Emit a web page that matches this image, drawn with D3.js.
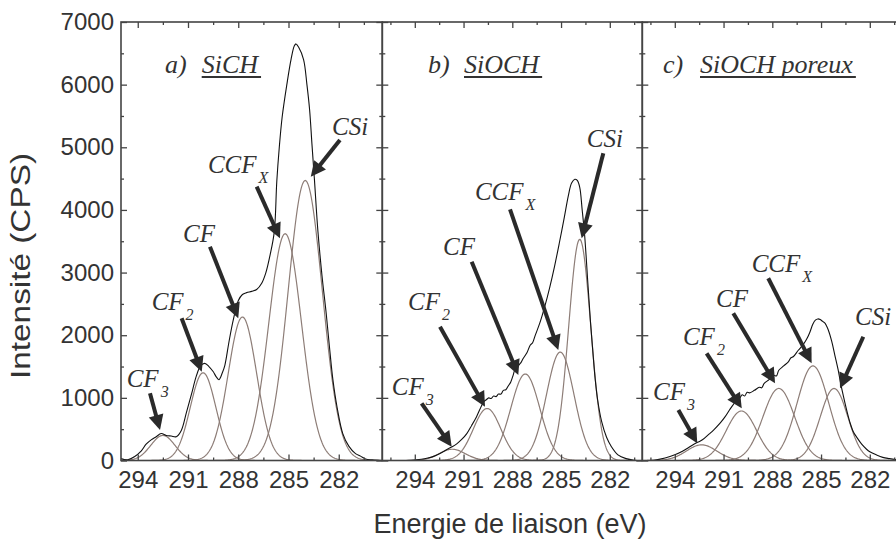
<!DOCTYPE html>
<html><head><meta charset="utf-8">
<script src="https://cdn.jsdelivr.net/npm/d3@7"></script>
<style>body{margin:0;background:#fff} svg{display:block}</style>
</head><body><svg id="c" width="896" height="542"></svg>
<script>
// ---------- data ----------
const xMajorTicks = [294, 291, 288, 285, 282];
const xMinorTicks = [295.5, 292.5, 289.5, 286.5, 283.5, 280.5];
const yMajorTicks = [0, 1000, 2000, 3000, 4000, 5000, 6000, 7000];
const yMinorTicks = [500, 1500, 2500, 3500, 4500, 5500, 6500];

const panelLetters = ["a)", "b)", "c)"];
const panelTitles = ["SiCH", "SiOCH", "SiOCH poreux"];
const componentNames = ["CF", "CF", "CF", "CCF", "CSi"];
const componentSubs = ["3", "2", "", "X", ""];

// fitted components: centre (eV), height (CPS), FWHM (eV)
const sichCenter = [292.5, 290.1, 287.75, 285.2, 284.0];
const sichHeight = [400, 1400, 2290, 3620, 4470];
const sichFwhm = [1.7, 1.8, 2.0, 2.3, 2.4];

const siochCenter = [291.7, 289.55, 287.2, 285.05, 283.85];
const siochHeight = [180, 830, 1380, 1730, 3530];
const siochFwhm = [1.9, 2.0, 2.1, 2.0, 1.6];

const porCenter = [292.35, 289.9, 287.6, 285.5, 284.2];
const porHeight = [250, 790, 1150, 1510, 1150];
const porFwhm = [2.2, 2.2, 2.3, 2.3, 2.0];

// measured envelopes
const sichEnvE = [295.0,294.6,294.2,293.8,293.5,293.2,292.9,292.6,292.3,292.0,291.7,291.4,291.1,290.8,290.5,290.25,290.0,289.75,289.5,289.3,289.15,288.95,288.8,288.55,288.3,288.0,287.75,287.5,287.2,286.9,286.6,286.35,286.1,285.85,285.7,285.55,285.38,285.1,284.85,284.65,284.55,284.4,284.1,283.9,283.74,283.6,283.45,283.25,283.0,282.75,282.55,282.35,282.1,281.76,281.4,281.0,280.7,280.4,280.0,279.4];
const sichEnvI = [30,10,60,150,260,330,380,430,400,390,380,480,760,1050,1350,1510,1550,1500,1420,1330,1290,1400,1520,1900,2240,2550,2650,2680,2700,2730,2830,3000,3280,3650,4450,5000,5480,6000,6400,6620,6650,6600,6400,6000,5600,5050,4480,3680,2950,2350,1800,1290,850,430,230,110,70,25,10,0];

const siochEnvE = [296.0,295.0,294.2,293.6,293.2,292.8,292.4,292.0,291.7,291.4,291.1,290.8,290.5,290.2,289.9,289.75,289.6,289.45,289.3,289.15,289.0,288.85,288.7,288.55,288.4,288.25,288.1,287.95,287.85,287.7,287.6,287.45,287.35,287.1,286.9,286.75,286.6,286.3,286.0,285.7,285.4,285.1,284.8,284.55,284.35,284.15,284.0,283.85,283.7,283.55,283.35,283.2,283.05,282.9,282.75,282.5,282.2,281.9,281.5,281.0,280.5,280.0];
const siochEnvI = [0,0,5,20,40,70,120,180,220,270,340,430,560,700,870,940,970,1000,990,1030,1020,1060,1060,1120,1130,1190,1250,1360,1440,1470,1520,1570,1620,1720,1840,1880,1990,2200,2460,2760,3100,3480,3880,4230,4430,4490,4470,4360,4000,3600,2830,2250,1760,1300,970,620,370,220,90,30,5,0];

const porEnvE = [296.0,295.3,294.6,294.0,293.5,293.0,292.6,292.3,291.9,291.6,291.2,290.9,290.6,290.3,290.15,290.0,289.85,289.7,289.55,289.4,289.1,288.8,288.65,288.5,288.2,287.9,287.75,287.6,287.3,287.0,286.85,286.7,286.4,286.1,285.9,285.7,285.5,285.35,285.2,285.05,284.9,284.75,284.55,284.35,284.15,283.95,283.8,283.6,283.4,283.2,283.0,282.8,282.5,282.2,282.0,281.6,281.2,280.8,280.4,280.0];
const porEnvI = [0,5,40,90,150,230,290,330,420,490,600,700,820,930,990,1000,1050,1030,1090,1080,1120,1170,1160,1230,1290,1360,1350,1440,1510,1580,1640,1660,1760,1850,1930,2040,2180,2240,2260,2250,2220,2190,2080,1910,1680,1450,1240,1000,780,590,450,370,260,180,140,90,50,30,15,5];

// annotation anchors in data units [eV, CPS]
const sichLabel = [[294.66,1178],[293.17,2403],[291.30,3488],[289.81,4590],[282.40,5197]];
const sichTail  = [[293.27,1073],[291.38,2270],[289.69,3413],[286.90,4371],[281.93,5117]];
const sichTip   = [[292.67,487],[290.18,1418],[288.0,2270],[285.51,3547],[283.67,4531]];

const siochLabel = [[295.42,1046],[294.42,2403],[292.26,3281],[290.30,4159],[283.42,5010]];
const siochTail  = [[293.58,913],[292.45,2136],[290.50,3174],[288.14,4010],[282.40,4904]];
const siochTip   = [[291.73,220],[289.68,859],[287.63,1365],[285.17,1764],[283.73,3547]];

const porLabel = [[295.34,966],[293.50,1844],[291.46,2455],[289.27,3014],[282.91,2163]];
const porTail  = [[293.78,806],[292.04,1711],[290.40,2350],[288.25,2909],[282.40,1976]];
const porTip   = [[292.62,275],[289.88,833],[287.83,1232],[285.58,1552],[283.83,1153]];

// ---------- layout ----------
const plotTop = 22, plotBottom = 460.5;
const panelX = [[121, 382.3], [382.3, 642.3], [642.3, 902.3]];
const panelDomain = [[295, 279.4], [296, 280], [296, 280]];
const titleOffsets = [[44, 80.7], [45.7, 81.7], [20.7, 57.7]];

const panels = [
  {c: sichCenter, h: sichHeight, w: sichFwhm, e: sichEnvE, i: sichEnvI, lab: sichLabel, tail: sichTail, tip: sichTip},
  {c: siochCenter, h: siochHeight, w: siochFwhm, e: siochEnvE, i: siochEnvI, lab: siochLabel, tail: siochTail, tip: siochTip},
  {c: porCenter, h: porHeight, w: porFwhm, e: porEnvE, i: porEnvI, lab: porLabel, tail: porTail, tip: porTip}
];

const svg = d3.select("#c");
const y = d3.scaleLinear().domain([0, 7000]).range([plotBottom, plotTop]);
const axisColor = "#444";
const textColor = "#333";
const compColor = "#8d7d77";
const sans = "'Liberation Sans', Arial, Helvetica, sans-serif";
const serif = "'Liberation Serif', 'Times New Roman', serif";

const defs = svg.append("defs");

panels.forEach((p, k) => {
  const x = d3.scaleLinear().domain(panelDomain[k]).range(panelX[k]);
  const g = svg.append("g");
  defs.append("clipPath").attr("id", "clip" + k).append("rect")
    .attr("x", panelX[k][0]).attr("y", plotTop).attr("width", panelX[k][1] - panelX[k][0]).attr("height", plotBottom - plotTop);
  const plot = g.append("g").attr("clip-path", `url(#clip${k})`);
  const line = d3.line().x(d => x(d[0])).y(d => y(d[1]));

  // components
  const grid = d3.range(panelDomain[k][0], panelDomain[k][1] - 0.001, -0.04);
  p.c.forEach((c, j) => {
    const s = p.w[j] / 2.3548;
    const pts = grid.map(E => [E, p.h[j] * Math.exp(-((E - c) ** 2) / (2 * s * s))]);
    plot.append("path").attr("d", line(pts))
      .attr("fill", "none").attr("stroke", compColor).attr("stroke-width", 1.2);
  });
  // envelope
  const env = p.e.map((E, j) => [E, p.i[j]]);
  plot.append("path").attr("d", line.curve(d3.curveCatmullRom.alpha(0.5))(env))
    .attr("fill", "none").attr("stroke", "#111").attr("stroke-width", 1.1);

  const tickStyle = sel => {
    sel.select(".domain").remove();
    sel.selectAll("line").attr("stroke", axisColor).attr("stroke-width", 1.3);
  };
  const minors = xMinorTicks.filter(v => v < panelDomain[k][0] && v > panelDomain[k][1]);
  // bottom
  const ax = g.append("g").attr("transform", `translate(0,${plotBottom})`)
    .call(d3.axisBottom(x).tickValues(xMajorTicks).tickSize(-6).tickPadding(10).tickFormat(d3.format("d")));
  tickStyle(ax);
  ax.selectAll("text").attr("font-family", sans).attr("font-size", 24).attr("fill", textColor);
  g.append("g").attr("transform", `translate(0,${plotBottom})`)
    .call(d3.axisBottom(x).tickValues(minors).tickSize(-3).tickFormat("")).call(tickStyle);
  // top
  g.append("g").attr("transform", `translate(0,${plotTop})`)
    .call(d3.axisTop(x).tickValues(xMajorTicks).tickSize(-6).tickFormat("")).call(tickStyle);
  g.append("g").attr("transform", `translate(0,${plotTop})`)
    .call(d3.axisTop(x).tickValues(minors).tickSize(-3).tickFormat("")).call(tickStyle);
  // left
  const ay = g.append("g").attr("transform", `translate(${panelX[k][0]},0)`)
    .call(d3.axisLeft(y).tickValues(yMajorTicks).tickSize(-6).tickPadding(7).tickFormat(k === 0 ? d3.format("d") : ""));
  tickStyle(ay);
  ay.selectAll("text").attr("font-family", sans).attr("font-size", 24).attr("fill", textColor);
  g.append("g").attr("transform", `translate(${panelX[k][0]},0)`)
    .call(d3.axisLeft(y).tickValues(yMinorTicks).tickSize(-3).tickFormat("")).call(tickStyle);
  // right
  g.append("g").attr("transform", `translate(${panelX[k][1]},0)`)
    .call(d3.axisRight(y).tickValues(yMajorTicks).tickSize(-6).tickFormat("")).call(tickStyle);
  g.append("g").attr("transform", `translate(${panelX[k][1]},0)`)
    .call(d3.axisRight(y).tickValues(yMinorTicks).tickSize(-3).tickFormat("")).call(tickStyle);

  // frame
  g.append("rect").attr("x", panelX[k][0]).attr("y", plotTop)
    .attr("width", panelX[k][1] - panelX[k][0]).attr("height", plotBottom - plotTop)
    .attr("fill", "none").attr("stroke", axisColor).attr("stroke-width", 1.6);

  // title
  const tx0 = panelX[k][0];
  g.append("text").attr("x", tx0 + titleOffsets[k][0]).attr("y", 73)
    .attr("font-family", serif).attr("font-style", "italic").attr("font-size", 26).attr("fill", textColor)
    .text(panelLetters[k]);
  const tt = g.append("text").attr("x", tx0 + titleOffsets[k][1]).attr("y", 73)
    .attr("font-family", serif).attr("font-style", "italic").attr("font-size", 26).attr("fill", textColor)
    .text(panelTitles[k]);
  const tw = tt.node().getComputedTextLength();
  g.append("line").attr("x1", tx0 + titleOffsets[k][1]).attr("x2", tx0 + titleOffsets[k][1] + tw + 3)
    .attr("y1", 77).attr("y2", 77).attr("stroke", textColor).attr("stroke-width", 2);

  // annotations
  p.lab.forEach((L, j) => {
    const t = g.append("text").attr("x", x(L[0])).attr("y", y(L[1]))
      .attr("font-family", serif).attr("font-style", "italic").attr("font-size", 25).attr("fill", textColor);
    t.append("tspan").text(componentNames[j]);
    if (componentSubs[j]) t.append("tspan").attr("dx", 2).attr("dy", 10).attr("font-size", 16).text(componentSubs[j]);
    const x1 = x(p.tail[j][0]), y1 = y(p.tail[j][1]);
    const x2 = x(p.tip[j][0]), y2 = y(p.tip[j][1]);
    const dx = x2 - x1, dy = y2 - y1, len = Math.hypot(dx, dy);
    const ux = dx / len, uy = dy / len;
    const hl = 15, hw = 7.5;
    const bx = x2 - ux * hl, by = y2 - uy * hl;
    g.append("line").attr("x1", x1).attr("y1", y1).attr("x2", bx + ux * 2).attr("y2", by + uy * 2)
      .attr("stroke", "#2a2a2a").attr("stroke-width", 4);
    g.append("path").attr("d", `M${x2},${y2}L${bx - uy * hw},${by + ux * hw}L${bx + uy * hw},${by - ux * hw}Z`)
      .attr("fill", "#2a2a2a");
  });
});

// axis titles
svg.append("text").attr("x", 510).attr("y", 533).attr("text-anchor", "middle")
  .attr("font-family", sans).attr("font-size", 27).attr("fill", textColor).text("Energie de liaison (eV)");
svg.append("text").attr("transform", "translate(30,266) rotate(-90)").attr("text-anchor", "middle")
  .attr("font-family", sans).attr("font-size", 27).attr("fill", textColor)
  .attr("textLength", 226).attr("lengthAdjust", "spacingAndGlyphs").text("Intensité (CPS)");
</script></body></html>
